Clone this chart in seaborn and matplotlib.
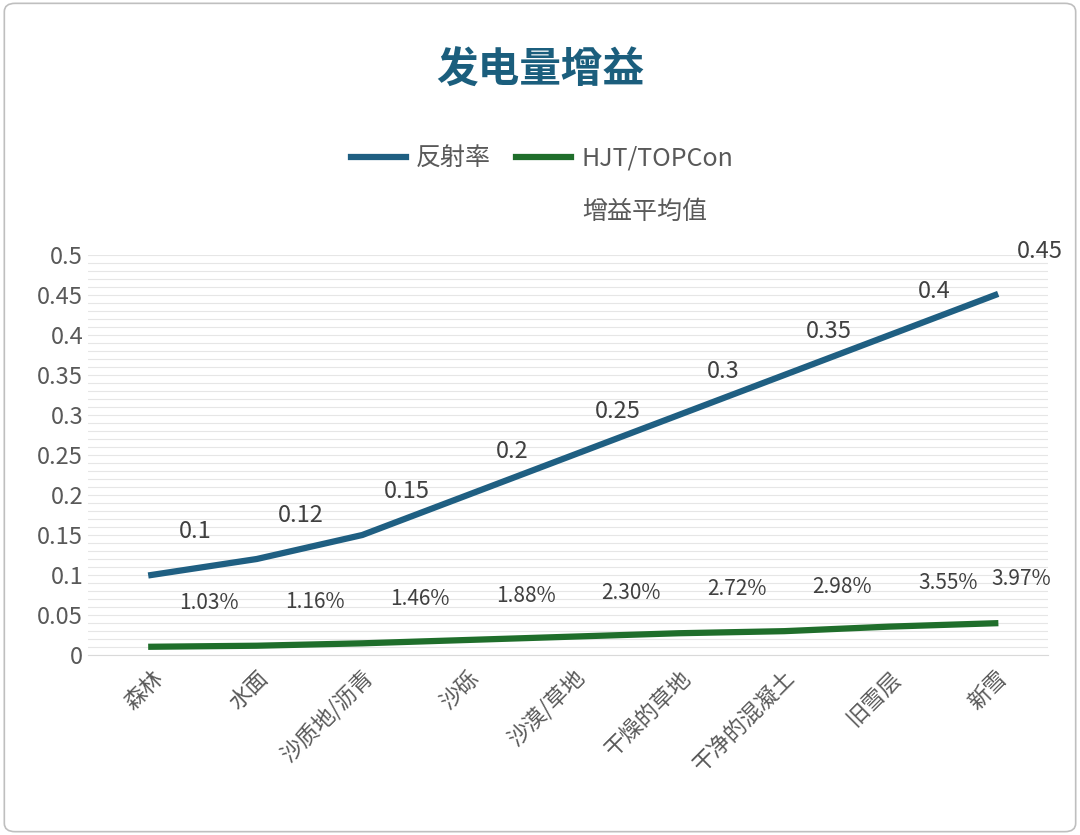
import matplotlib
matplotlib.use("Agg")
import matplotlib.pyplot as plt
import seaborn as sns
import pandas as pd
from matplotlib.ticker import MultipleLocator
from matplotlib.patches import FancyBboxPatch
from matplotlib import font_manager as fm

cjk = None
for f in fm.fontManager.ttflist:
    if "CJK" in f.name and ("SC" in f.name or cjk is None):
        cjk = f.name
        if "SC" in f.name:
            break
plt.rcParams["font.family"] = "sans-serif"
plt.rcParams["font.sans-serif"] = [n for n in [cjk, "Noto Sans CJK SC", "Noto Sans CJK JP", "DejaVu Sans"] if n]

categories = ["森林", "水面", "沙质地/沥青", "沙砾", "沙漠/草地", "干燥的草地", "干净的混凝土", "旧雪层", "新雪"]
reflectance = [0.1, 0.12, 0.15, 0.2, 0.25, 0.3, 0.35, 0.4, 0.45]
gain = [0.0103, 0.0116, 0.0146, 0.0188, 0.0230, 0.0272, 0.0298, 0.0355, 0.0397]
refl_labels = ["0.1", "0.12", "0.15", "0.2", "0.25", "0.3", "0.35", "0.4", "0.45"]
gain_labels = ["1.03%", "1.16%", "1.46%", "1.88%", "2.30%", "2.72%", "2.98%", "3.55%", "3.97%"]

df = pd.DataFrame({"x": range(len(categories)), "refl": reflectance, "gain": gain})

fig = plt.figure(figsize=(10.8, 8.35), dpi=100)
fig.patches.append(FancyBboxPatch((0.004, 0.004), 0.992, 0.992, boxstyle="round,pad=0,rounding_size=0.01",
                                  transform=fig.transFigure, fill=False, ec="#bfbfbf", lw=1.2))
ax = fig.add_axes([88/1080, 180/835, 960/1080, 400/835])

blue = "#1f5f82"
green = "#1f6e2b"
sns.lineplot(data=df, x="x", y="refl", ax=ax, color=blue, lw=4.5, label="反射率")
sns.lineplot(data=df, x="x", y="gain", ax=ax, color=green, lw=4.5, label="HJT/TOPCon")

ax.set_xlim(-0.6, 8.5)
ax.set_ylim(0, 0.5)
ax.yaxis.set_major_locator(MultipleLocator(0.05))
ax.yaxis.set_minor_locator(MultipleLocator(0.01))
ax.set_yticklabels([f"{v:g}" for v in ax.get_yticks()])
ax.grid(axis="y", which="both", color="#e6e6e6", lw=0.8)
ax.set_axisbelow(True)
ax.set_xticks(range(len(categories)))
ax.set_xticklabels(categories, rotation=45, ha="right", rotation_mode="anchor", fontsize=16, color="#595959")
ax.tick_params(axis="y", labelsize=17, labelcolor="#595959", length=0, which="both")
ax.tick_params(axis="x", length=0, pad=8)
ax.set_xlabel("")
ax.set_ylabel("")
for s in ["top", "right", "left"]:
    ax.spines[s].set_visible(False)
ax.spines["bottom"].set_color("#d9d9d9")

for i, (v, t) in enumerate(zip(reflectance, refl_labels)):
    ax.text(i + 0.42, v + 0.055, t, ha="center", va="center", fontsize=17, color="#404040")
for i, (v, t) in enumerate(zip(gain, gain_labels)):
    dx = 0.25 if i == 8 else 0.55
    ax.text(i + dx, v + 0.055, t, ha="center", va="center", fontsize=15, color="#404040")

leg = ax.legend(loc="center", bbox_to_anchor=(0.473, 1.24), ncol=2, frameon=False,
                fontsize=18, handlelength=2.2, columnspacing=1.0, handletextpad=0.4)
for t in leg.get_texts():
    t.set_color("#595959")
fig.text(645/1080, 1 - 212/835, "增益平均值", ha="center", va="center", fontsize=18, color="#595959")

fig.text(0.5, 0.915, "发电量增益", ha="center", va="center", fontsize=30, fontweight="bold", color="#1b5e7d")
fig.savefig("out.png", dpi=100)
